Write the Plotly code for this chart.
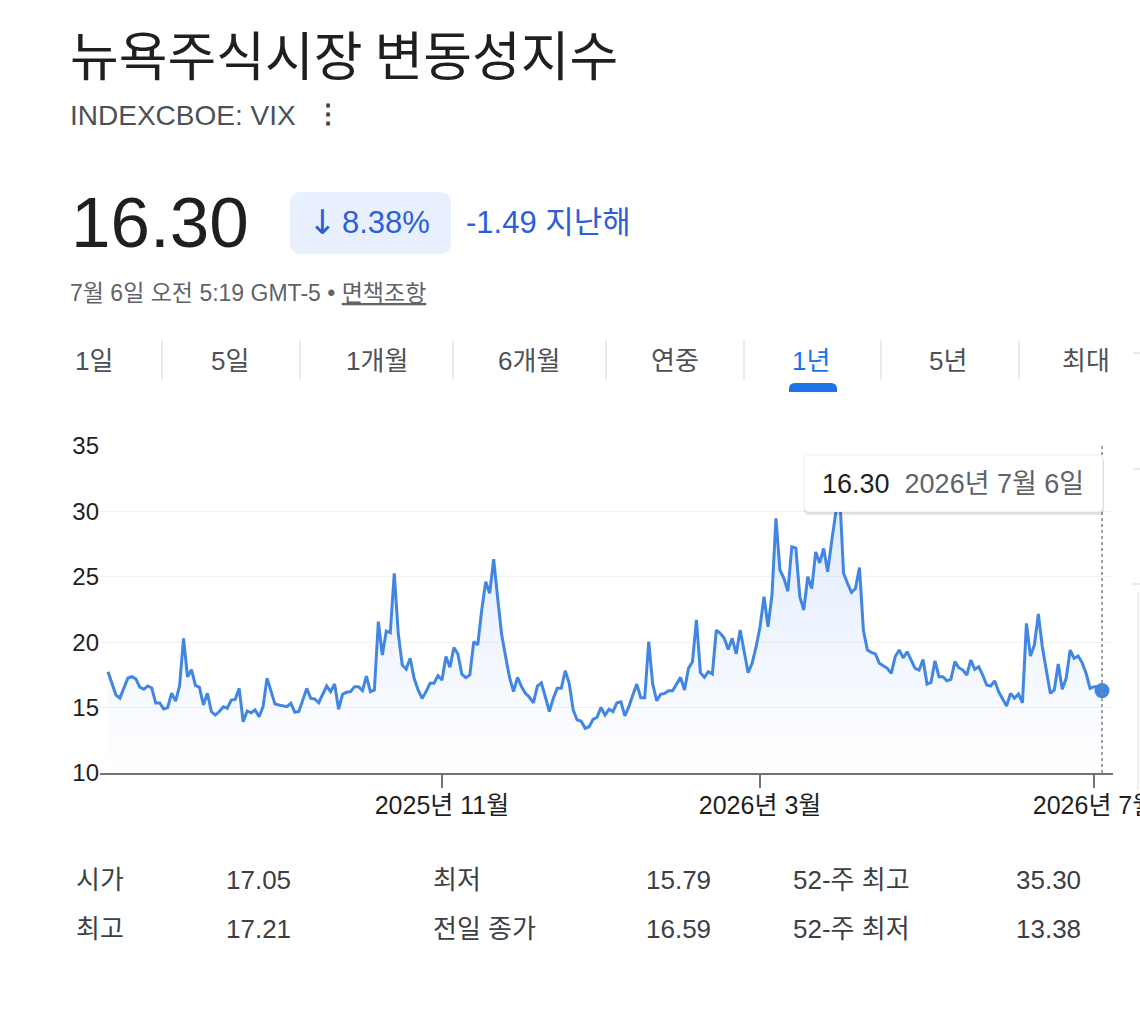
import pandas as pd
import plotly.graph_objects as go

# --- data ---
start_date = "2025-07-07"
end_date = "2026-07-06"
market_holidays = ["2025-09-01", "2025-11-27", "2025-12-25", "2026-01-01", "2026-01-19",
                   "2026-02-16", "2026-04-03", "2026-05-25", "2026-06-19", "2026-07-03"]

vix = [
    17.74, 16.80, 15.96, 15.73, 16.50, 17.26, 17.36, 17.20, 16.57, 16.40,
    16.65, 16.50, 15.35, 15.35, 14.90, 15.00, 16.10, 15.50, 16.65, 20.30,
    17.36, 17.90, 16.70, 16.55, 15.20, 16.10, 14.70, 14.43, 14.70, 15.07,
    14.95, 15.58, 15.63, 16.47, 13.92, 14.74, 14.60, 14.82, 14.30, 15.07,
    17.24, 16.20, 15.27, 15.20, 15.12, 15.07, 15.33, 14.64, 14.70, 15.63,
    16.47, 15.70, 15.66, 15.37, 15.96, 16.65, 16.22, 16.80, 14.87, 16.02,
    16.17, 16.22, 16.60, 16.60, 16.30, 17.40, 16.22, 16.35, 21.57, 19.02,
    20.85, 20.73, 25.27, 20.68, 18.26, 17.93, 18.77, 17.24, 16.35, 15.70,
    16.22, 16.86, 16.86, 17.45, 17.10, 18.90, 18.08, 19.60, 19.10, 17.55,
    17.29, 17.50, 20.04, 19.79, 22.46, 24.63, 23.74, 26.34, 23.40, 20.60,
    18.90, 17.30, 16.22, 17.31, 16.60, 16.09, 15.79, 15.37, 16.65, 16.90,
    15.83, 14.69, 15.71, 16.47, 16.47, 17.82, 16.86, 14.82, 14.05, 13.98,
    13.42, 13.54, 14.10, 14.26, 15.02, 14.43, 14.87, 14.69, 15.37, 15.45,
    14.36, 15.07, 15.96, 16.80, 15.76, 15.76, 20.04, 16.80, 15.53, 16.02,
    16.09, 16.29, 16.29, 16.80, 17.31, 16.35, 18.00, 18.50, 21.70, 17.67,
    17.31, 17.74, 17.57, 20.93, 20.68, 20.30, 19.45, 20.30, 19.10, 20.93,
    19.40, 17.67, 18.39, 19.64, 21.18, 23.48, 21.18, 23.60, 29.47, 25.52,
    24.88, 23.90, 27.30, 27.20, 23.48, 22.46, 25.00, 24.10, 26.90, 26.06,
    27.17, 25.39, 27.68, 29.80, 31.50, 25.27, 24.50, 23.80, 24.10, 25.71,
    20.90, 19.40, 19.22, 19.10, 18.39, 18.18, 18.00, 17.62, 18.90, 19.40,
    18.80, 19.27, 18.64, 18.00, 17.87, 18.68, 16.80, 16.93, 18.58, 17.36,
    17.36, 17.05, 17.16, 18.51, 18.05, 17.87, 17.49, 18.64, 17.93, 18.13,
    17.49, 16.73, 16.65, 17.05, 16.22, 15.71, 15.12, 16.09, 15.71, 16.04,
    15.37, 21.44, 18.94, 19.79, 22.16, 19.64, 17.87, 16.09, 16.35, 18.33,
    16.40, 17.24, 19.40, 18.77, 18.94, 18.43, 17.62, 16.47, 16.60, 16.59,
    16.30,
]

tick_dates = ["2025-11-03", "2026-03-02", "2026-07-01"]
tick_labels = ["2025년 11월", "2026년 3월", "2026년 7월"]
y_ticks = [10, 15, 20, 25, 30, 35]

tabs = ["1일", "5일", "1개월", "6개월", "연중", "1년", "5년", "최대"]
active_tab = "1년"

stat_labels = [["시가", "최저", "52-주 최고"], ["최고", "전일 종가", "52-주 최저"]]
stat_values = [["17.05", "15.79", "35.30"], ["17.21", "16.59", "13.38"]]

dates = pd.bdate_range(start_date, end_date, freq="C",
                       holidays=market_holidays).strftime("%Y-%m-%d").tolist()

# --- page geometry (pixels) ---
W, H = 1140, 1022
L, R, T, B = 100, 1113, 446, 773
FONT = "Liberation Sans, Noto Sans CJK KR, sans-serif"
BLUE = "#4186e3"
TEXT_BLUE = "#2b5fd9"


def px(x):
    return (x - L) / (R - L)


def py(y):
    return (B - y) / (B - T)


def rrect(x0, y0, x1, y1, r, rb=None):
    rb = r if rb is None else rb
    p = lambda x, y: f"{px(x):.5f},{py(y):.5f}"
    return (f"M {p(x0 + r, y0)} L {p(x1 - r, y0)} Q {p(x1, y0)} {p(x1, y0 + r)} "
            f"L {p(x1, y1 - rb)} Q {p(x1, y1)} {p(x1 - rb, y1)} "
            f"L {p(x0 + rb, y1)} Q {p(x0, y1)} {p(x0, y1 - rb)} "
            f"L {p(x0, y0 + r)} Q {p(x0, y0)} {p(x0 + r, y0)} Z")


fig = go.Figure()

fig.add_trace(go.Scatter(
    x=dates, y=vix, mode="lines",
    line=dict(color=BLUE, width=3),
    fill="tozeroy",
    fillgradient=dict(type="vertical", start=10, stop=30,
                      colorscale=[[0, "rgba(66,133,244,0)"], [1, "rgba(66,133,244,0.16)"]]),
    hoverinfo="skip",
))
fig.add_trace(go.Scatter(
    x=[dates[-1]], y=[vix[-1]], mode="markers",
    marker=dict(size=15, color=BLUE),
    hoverinfo="skip",
))

shapes = []
# hover guide line
shapes.append(dict(type="line", xref="x", yref="paper", x0=dates[-1], x1=dates[-1], y0=0, y1=1,
                   line=dict(color="#80868b", width=1.5, dash="dot"), layer="above"))
# tooltip box with soft shadow
shapes.append(dict(type="path", xref="paper", yref="paper", path=rrect(804, 457, 1104, 515, 5),
                   fillcolor="rgba(0,0,0,0.10)", line=dict(width=0), layer="above"))
shapes.append(dict(type="path", xref="paper", yref="paper", path=rrect(804, 455, 1103, 512, 5),
                   fillcolor="white", line=dict(color="rgba(0,0,0,0.07)", width=1), layer="above"))
# change badge
shapes.append(dict(type="path", xref="paper", yref="paper", path=rrect(290, 192, 451, 254, 12),
                   fillcolor="#e8f0fe", line=dict(width=0), layer="above"))
# tab separators
for sx in [162, 300, 453, 606, 744, 881, 1019]:
    shapes.append(dict(type="line", xref="paper", yref="paper", x0=px(sx), x1=px(sx),
                       y0=py(340), y1=py(380), line=dict(color="#dadce0", width=1.2)))
# active tab underline
shapes.append(dict(type="path", xref="paper", yref="paper", path=rrect(789, 383, 837, 392, 6, 0),
                   fillcolor="#1a73e8", line=dict(width=0)))
# edge of neighbouring card
for hy in [353, 469, 584]:
    shapes.append(dict(type="line", xref="paper", yref="paper", x0=px(1133), x1=px(1140),
                       y0=py(hy), y1=py(hy), line=dict(color="#dadce0", width=1.2)))
shapes.append(dict(type="line", xref="paper", yref="paper", x0=px(1138), x1=px(1138),
                   y0=py(592), y1=py(790), line=dict(color="#e3e3e3", width=1.2)))

ann = []


def text(x, y, s, size, color, anchor="left", family=FONT):
    ann.append(dict(x=px(x), y=py(y), xref="paper", yref="paper", text=s, showarrow=False,
                    xanchor=anchor, yanchor="middle",
                    font=dict(family=family, size=size, color=color)))


text(68, 53, "뉴욕주식시장 변동성지수", 53, "#1f1f1f", family="Noto Sans CJK KR")
text(68, 116, "INDEXCBOE: VIX", 28, "#4d5156")
text(328, 114, "<b>⋮</b>", 26, "#3c4043", anchor="center")
text(69, 222, "16.30", 71, "#1f1f1f")
text(322, 222, "↓", 34, TEXT_BLUE, anchor="center", family="DejaVu Sans")
text(340, 223, "8.38%", 31, TEXT_BLUE)
text(464, 222, "-1.49 지난해", 31, TEXT_BLUE)
text(68, 293, "7월 6일 오전 5:19 GMT-5 • <u>면책조항</u>", 23, "#5f6368")

for name, cx in zip(tabs, [94, 230, 377, 529, 675, 811, 948, 1086]):
    text(cx, 361, name, 26, "#1a73e8" if name == active_tab else "#4d5156", anchor="center")

# tooltip content
text(820, 484, f"<span style='color:#1f1f1f'>{vix[-1]:.2f}</span>"
               f"<span style='color:#5f6368'>  2026년 7월 6일</span>", 27, "#1f1f1f")

# key stats
for r, yy in enumerate([880, 929]):
    for c, (lx, vx) in enumerate(zip([74, 431, 791], [293, 713, 1083])):
        text(lx, yy, stat_labels[r][c], 26, "#3c4043")
        text(vx, yy, stat_values[r][c], 26, "#3c4043", anchor="right")

fig.update_layout(
    width=W, height=H, autosize=False,
    margin=dict(l=L, r=W - R, t=T, b=H - B),
    paper_bgcolor="white", plot_bgcolor="white",
    showlegend=False,
    shapes=shapes,
    annotations=ann,
    font=dict(family=FONT),
    xaxis=dict(
        type="category", range=[-2.01, 252.77], automargin=False,
        tickmode="array", tickvals=tick_dates, ticktext=tick_labels,
        showline=True, linecolor="#70757a", linewidth=2,
        ticks="outside", ticklen=13, tickwidth=1.5, tickcolor="#70757a",
        ticklabelstandoff=-4,
        showgrid=False, zeroline=False,
        tickfont=dict(size=25, color="#1f1f1f"),
    ),
    yaxis=dict(
        range=[10, 35], tickmode="array", tickvals=y_ticks, automargin=False,
        showgrid=True, gridcolor="#f1f1f1", gridwidth=1,
        zeroline=False, showline=False, ticks="",
        tickfont=dict(size=24, color="#1f1f1f"),
    ),
)

fig.write_html(
    "out.html",
    config={"displayModeBar": False, "responsive": False},
    post_script="document.body.style.margin='0';document.body.style.overflow='hidden';",
)
